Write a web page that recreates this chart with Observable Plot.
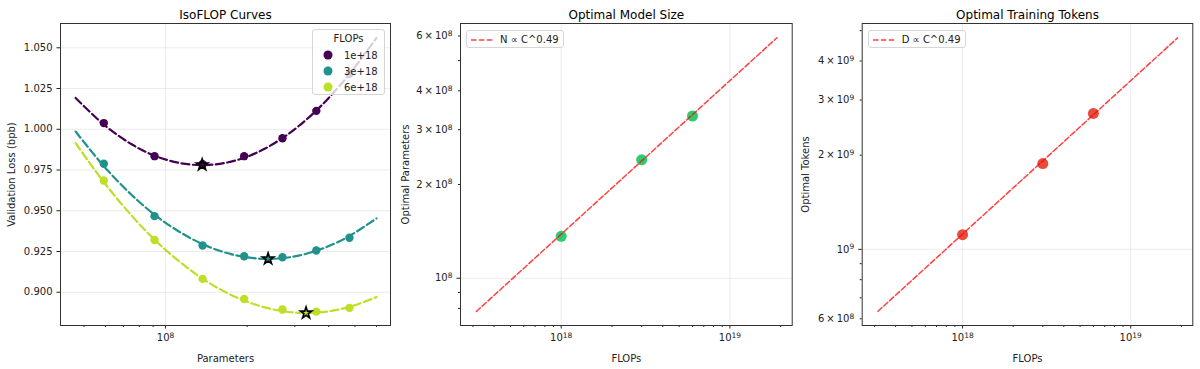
<!DOCTYPE html>
<html><head><meta charset="utf-8">
<script src="https://cdn.jsdelivr.net/npm/d3@7"></script>
<script src="https://cdn.jsdelivr.net/npm/@observablehq/plot@0.6"></script>
<style>
body{margin:0;background:#fff;font-family:"DejaVu Sans",sans-serif;}
#fig{position:relative;width:1200px;height:369px;overflow:hidden;background:#fff;}
.panel{position:absolute;top:0;}
.legend{position:absolute;background:rgba(255,255,255,0.8);border:1px solid #d6d6d6;border-radius:3px;font-size:10px;color:#222;box-sizing:border-box;font-family:"DejaVu Sans",sans-serif;}
.legend .row{display:flex;align-items:center;height:16px;}
.legend .ttl{text-align:center;height:16px;line-height:16px;}
</style></head><body><div id="fig"></div>
<script>
// ---------------- data ----------------
const flopBudgets = ["1e+18", "3e+18", "6e+18"];
const budgetColors = ["#440154", "#21918c", "#bddf26"];

// IsoFLOP panel: measured runs (model size -> validation loss)
const paramSizes = [5.92e7, 9.11e7, 1.37e8, 1.95e8, 2.70e8, 3.60e8, 4.77e8];
const loss1e18 = [1.0038, 0.9835, 0.9785, 0.9835, 0.9945, 1.0113, 1.0340];
const loss3e18 = [0.9788, 0.9467, 0.9287, 0.9221, 0.9215, 0.9256, 0.9334];
const loss6e18 = [0.9686, 0.9321, 0.9082, 0.8959, 0.8894, 0.8881, 0.8904];

// fitted curves
const fitParams = [4.66e7, 5.92e7, 7.5e7, 9.11e7, 1.12e8, 1.37e8, 1.65e8, 1.95e8, 2.3e8, 2.7e8, 3.1e8, 3.6e8, 4.1e8, 4.77e8, 6.0e8];
const fit1e18 = [1.0192, 1.0029, 0.9908, 0.9838, 0.9794, 0.9780, 0.9793, 0.9825, 0.9877, 0.9946, 1.0020, 1.0115, 1.0212, 1.0339, 1.0561];
const fit3e18 = [0.9986, 0.9774, 0.9597, 0.9476, 0.9373, 0.9295, 0.9245, 0.9217, 0.9205, 0.9209, 0.9225, 0.9254, 0.9291, 0.9345, 0.9453];
const fit6e18 = [0.9915, 0.9676, 0.9470, 0.9323, 0.9191, 0.9083, 0.9004, 0.8949, 0.8909, 0.8884, 0.8874, 0.8875, 0.8886, 0.8910, 0.8970];

// optima (stars)
const optimalParams = [1.365e8, 2.39e8, 3.30e8];
const optimalLoss = [0.9782, 0.9205, 0.8873];

// scaling-law panels
const flops = [1e18, 3e18, 6e18];
const optParams = [1.364e8, 2.40e8, 3.32e8];
const optTokens = [1.114e9, 1.88e9, 2.72e9];
const fitFlops = [3.14e17, 1.9e19];
const fitParamsLine = [7.82e7, 5.92e8];
const fitTokensLine = [6.34e8, 4.74e9];

// ticks
const lossTicks = [0.900, 0.925, 0.950, 0.975, 1.000, 1.025, 1.050];
const p1MajorX = [1e8];
const p1MinorX = [5e7, 6e7, 7e7, 8e7, 9e7, 2e8, 3e8, 4e8, 5e8, 6e8];
const flopMajor = [1e18, 1e19];
const flopMinor = [3e17, 4e17, 5e17, 6e17, 7e17, 8e17, 9e17, 2e18, 3e18, 4e18, 5e18, 6e18, 7e18, 8e18, 9e18, 2e19];
const p2MajorY = [1e8];
const p2LabeledMinorY = [2e8, 3e8, 4e8, 6e8];
const p2MinorY = [8e7, 9e7, 5e8];
const p3MajorY = [1e9];
const p3LabeledMinorY = [6e8, 2e9, 3e9, 4e9];
const p3MinorY = [7e8, 8e8, 9e8, 5e9];

// ---------------- helpers ----------------
const SUP = {"0":"⁰","1":"¹","2":"²","3":"³","4":"⁴","5":"⁵","6":"⁶","7":"⁷","8":"⁸","9":"⁹"};
const UNSUP = Object.fromEntries(Object.entries(SUP).map(([k, v]) => [v, k]));
function sci(v) {
  const e = Math.floor(Math.log10(v) + 1e-9);
  const m = Math.round(v / Math.pow(10, e));
  const p = "10" + String(e).split("").map(c => SUP[c]).join("");
  return m === 1 ? p : m + "\u2009×\u2009" + p;
}
// render exponents as raised tspans (like matplotlib mathtext)
function supify(svg) {
  svg.querySelectorAll("text").forEach(t => {
    if (t.querySelector("tspan")) return;
    const m = t.textContent.match(/^(.*10)([⁰¹²³⁴⁵⁶⁷⁸⁹]+)$/);
    if (!m) return;
    t.textContent = m[1];
    const ts = document.createElementNS("http://www.w3.org/2000/svg", "tspan");
    ts.setAttribute("dy", "-0.45em");
    ts.setAttribute("font-size", "7.5");
    ts.textContent = m[2].split("").map(c => UNSUP[c]).join("");
    t.appendChild(ts);
  });
}
const grid = {stroke: "#000", strokeOpacity: 0.1, strokeWidth: 0.8};
const style = {fontFamily: "DejaVu Sans", fontSize: "10px", color: "#222", background: "transparent", overflow: "visible"};
const fig = document.getElementById("fig");

function place(el, left) {
  supify(el);
  el.classList.add("panel");
  el.style.left = left + "px";
  fig.appendChild(el);
}
function title(t) {
  return Plot.text([t], {frameAnchor: "top", dy: -5, lineAnchor: "bottom", fontSize: 12, fill: "#000"});
}

// ---------------- panel 1 ----------------
const lossSeries = [loss1e18, loss3e18, loss6e18];
const fitSeries = [fit1e18, fit3e18, fit6e18];
const runs = [], fits = [], stars = [];
flopBudgets.forEach((b, k) => {
  paramSizes.forEach((n, i) => runs.push({n, loss: lossSeries[k][i], b}));
  fitParams.forEach((n, i) => fits.push({n, loss: fitSeries[k][i], b}));
  stars.push({n: optimalParams[k], loss: optimalLoss[k], b});
});

const p1 = Plot.plot({
  width: 400, height: 369,
  marginLeft: 60, marginRight: 10, marginTop: 23, marginBottom: 44,
  style,
  x: {type: "log", domain: [4.098e7, 6.76e8]},
  y: {domain: [0.8796, 1.0649]},
  color: {domain: flopBudgets, range: budgetColors},
  marks: [
    Plot.gridY(lossTicks, grid),
    Plot.gridX(p1MajorX, grid),
    Plot.axisY(lossTicks, {tickFormat: d3.format(".3f"), tickSize: 3.5, tickPadding: 4.5, label: "Validation Loss (bpb)", labelAnchor: "center", labelArrow: "none", labelOffset: 53, fontSize: 10}),
    Plot.axisX(p1MajorX, {tickFormat: sci, tickSize: 3.5, tickPadding: 5, label: "Parameters", labelAnchor: "center", labelArrow: "none", labelOffset: 36}),
    Plot.axisX(p1MinorX, {tickFormat: () => "", tickSize: 2, label: null}),
    Plot.line(fits, {x: "n", y: "loss", z: "b", stroke: "b", strokeWidth: 2.2, strokeDasharray: "8,3.5", curve: "catmull-rom"}),
    Plot.dot(runs, {x: "n", y: "loss", fill: "b", r: 4.2}),
    Plot.dot(stars, {x: "n", y: "loss", fill: "b", stroke: "#000", strokeWidth: 1.6, symbol: "star", r: 3.6}),
    Plot.frame({stroke: "#333", strokeWidth: 1}),
    title("IsoFLOP Curves")
  ]
});
place(p1, 0);

// ---------------- panel 2 ----------------
const p2pts = flops.map((c, i) => ({c, v: optParams[i]}));
const p2fit = fitFlops.map((c, i) => ({c, v: fitParamsLine[i]}));
const p2 = Plot.plot({
  width: 400, height: 369,
  marginLeft: 60, marginRight: 8.3, marginTop: 23, marginBottom: 44,
  style,
  x: {type: "log", domain: [2.53e17, 2.34e19]},
  y: {type: "log", domain: [7.05e7, 6.58e8]},
  marks: [
    Plot.gridY(p2MajorY, grid),
    Plot.gridX(flopMajor, grid),
    Plot.axisY(p2MajorY, {tickFormat: sci, tickSize: 3.5, tickPadding: 4.5, label: "Optimal Parameters", labelAnchor: "center", labelArrow: "none", labelOffset: 59}),
    Plot.axisY(p2LabeledMinorY, {tickFormat: sci, tickSize: 2, tickPadding: 6, label: null}),
    Plot.axisY(p2MinorY, {tickFormat: () => "", tickSize: 2, label: null}),
    Plot.axisX(flopMajor, {tickFormat: sci, tickSize: 3.5, tickPadding: 5, label: "FLOPs", labelAnchor: "center", labelArrow: "none", labelOffset: 36}),
    Plot.axisX(flopMinor, {tickFormat: () => "", tickSize: 2, label: null}),
    Plot.dot(p2pts, {x: "c", y: "v", fill: "#2ecc71", r: 5.5}),
    Plot.line(p2fit, {x: "c", y: "v", stroke: "red", strokeOpacity: 0.75, strokeWidth: 1.5, strokeDasharray: "5.5,2.4"}),
    Plot.frame({stroke: "#333", strokeWidth: 1}),
    title("Optimal Model Size")
  ]
});
place(p2, 400);

// ---------------- panel 3 ----------------
const p3pts = flops.map((c, i) => ({c, v: optTokens[i]}));
const p3fit = fitFlops.map((c, i) => ({c, v: fitTokensLine[i]}));
const p3 = Plot.plot({
  width: 400, height: 369,
  marginLeft: 61.7, marginRight: 7.7, marginTop: 23, marginBottom: 44,
  style,
  x: {type: "log", domain: [2.53e17, 2.34e19]},
  y: {type: "log", domain: [5.71e8, 5.27e9]},
  marks: [
    Plot.gridY(p3MajorY, grid),
    Plot.gridX(flopMajor, grid),
    Plot.axisY(p3MajorY, {tickFormat: sci, tickSize: 3.5, tickPadding: 4.5, label: "Optimal Tokens", labelAnchor: "center", labelArrow: "none", labelOffset: 60}),
    Plot.axisY(p3LabeledMinorY, {tickFormat: sci, tickSize: 2, tickPadding: 6, label: null}),
    Plot.axisY(p3MinorY, {tickFormat: () => "", tickSize: 2, label: null}),
    Plot.axisX(flopMajor, {tickFormat: sci, tickSize: 3.5, tickPadding: 5, label: "FLOPs", labelAnchor: "center", labelArrow: "none", labelOffset: 36}),
    Plot.axisX(flopMinor, {tickFormat: () => "", tickSize: 2, label: null}),
    Plot.dot(p3pts, {x: "c", y: "v", fill: "#e74c3c", r: 5.5}),
    Plot.line(p3fit, {x: "c", y: "v", stroke: "red", strokeOpacity: 0.75, strokeWidth: 1.5, strokeDasharray: "5.5,2.4"}),
    Plot.frame({stroke: "#333", strokeWidth: 1}),
    title("Optimal Training Tokens")
  ]
});
place(p3, 800);

// ---------------- legends (HTML) ----------------
function addLegend(html, left, top, width, height) {
  const d = document.createElement("div");
  d.className = "legend";
  Object.assign(d.style, {left: left + "px", top: top + "px", width: width + "px", height: height + "px"});
  d.innerHTML = html;
  fig.appendChild(d);
}
let l1 = `<div class="ttl" style="margin-top:1px">FLOPs</div>`;
flopBudgets.forEach((b, k) => {
  l1 += `<div class="row"><svg width="30" height="12"><circle cx="15" cy="6" r="4.5" fill="${budgetColors[k]}"/></svg><span style="margin-left:1px">${b}</span></div>`;
});
addLegend(l1, 312, 29, 73, 66);

function lineLegend(text) {
  return `<div class="row" style="height:17px"><svg width="30" height="10"><line x1="4" x2="26" y1="5" y2="5" stroke="red" stroke-opacity="0.75" stroke-width="1.5" stroke-dasharray="5.5,2.4"/></svg><span style="margin-left:3px">${text}</span></div>`;
}
addLegend(lineLegend("N ∝ C^0.49"), 466, 30, 98, 18);
addLegend(lineLegend("D ∝ C^0.49"), 867.7, 30, 98.5, 18);
</script>
</body></html>
